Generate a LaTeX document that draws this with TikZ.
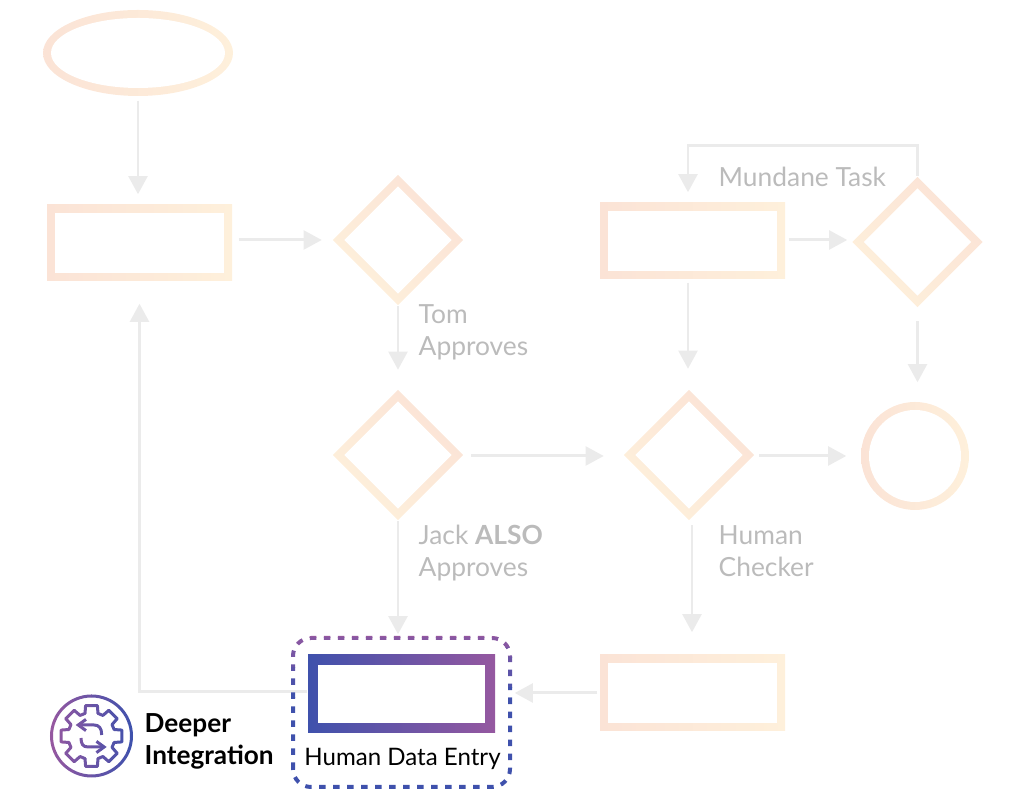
\documentclass[tikz,border=0pt]{standalone}
\usepackage{fontspec}
\setmainfont{Lato}
\usepackage{xcolor}
\usetikzlibrary{shapes.geometric,arrows.meta,positioning,calc}

\definecolor{peach}{HTML}{FBE3D6}
\definecolor{cream}{HTML}{FEF0DB}
\definecolor{flowgray}{HTML}{EBEBEB}
\definecolor{labelgray}{HTML}{BBBBBB}
\definecolor{deepblue}{HTML}{3F51AC}
\definecolor{deeppurple}{HTML}{9558A0}

\tikzset{
  flow/.style={draw=flowgray,line width=0.85pt,-{Triangle[width=5.4pt,length=5.2pt]}},
  boxshape/.style={rectangle,minimum width=1.85cm,minimum height=0.76cm,inner sep=0,
    left color=peach,right color=cream,
    path picture={\fill[white] ([shift={(0.08,0.08)}]path picture bounding box.south west)
      rectangle ([shift={(-0.08,-0.08)}]path picture bounding box.north east);}},
  decision/.style={diamond,aspect=1,minimum width=1.31cm,minimum height=1.31cm,inner sep=0,
    left color=cream,right color=peach,shading angle=135,
    path picture={\fill[white] ([yshift=-1.15mm]path picture bounding box.north)
      -- ([xshift=-1.15mm]path picture bounding box.east)
      -- ([yshift=1.15mm]path picture bounding box.south)
      -- ([xshift=1.15mm]path picture bounding box.west) -- cycle;}},
  note/.style={font=\fontsize{7.5}{9.1}\selectfont,text=labelgray,align=left,anchor=west,inner sep=0},
  blacknote/.style={font=\fontsize{7.45}{9.1}\selectfont\bfseries,text=black,align=left,anchor=west,inner sep=0},
  framedash/.style={dash pattern=on 0.065cm off 0.075cm,line width=0.04cm,rounded corners=0.18cm}
}

\newcommand{\gearicon}{
  \draw (0.915,0.64) circle (0.40);
  \foreach \a in {0,45,...,315}
    \draw[line join=round,line cap=round] ([shift={(0.915,0.64)}]\a-16:0.235) -- ([shift={(0.915,0.64)}]\a-11:0.31)
      -- ([shift={(0.915,0.64)}]\a+11:0.31) -- ([shift={(0.915,0.64)}]\a+16:0.235)
      -- ([shift={(0.915,0.64)}]\a+29:0.235);
  \draw[-{Straight Barb[length=2.2pt,width=3.2pt]}] (1.017,0.65) .. controls (1.017,0.72) and (0.99,0.75) .. (0.94,0.75) -- (0.757,0.75);
  \draw[-{Straight Barb[length=2.2pt,width=3.2pt]}] (0.81,0.62) .. controls (0.81,0.56) and (0.83,0.53) .. (0.88,0.53) -- (1.067,0.53);
}

\begin{document}
\begin{tikzpicture}
  \useasboundingbox (0,0) rectangle (10.24,8);
  % shapes
  \node[ellipse,minimum width=1.9cm,minimum height=0.86cm,inner sep=0,left color=peach,right color=cream,
    path picture={\fill[white] (path picture bounding box.center) ellipse (0.87 and 0.35);}]
    (start) at (1.38,7.47) {};
  \node[boxshape] (firstbox) at (1.395,5.57) {};
  \node[decision] (tom) at (3.98,5.60) {};
  \node[decision] (jack) at (3.98,3.45) {};
  \node[boxshape] (taskbox) at (6.925,5.59) {};
  \node[decision] (mundane) at (9.175,5.58) {};
  \node[decision] (checker) at (6.89,3.45) {};
  \node[circle,minimum size=1.08cm,inner sep=0,left color=peach,right color=cream,
    path picture={\fill[white] (path picture bounding box.center) circle (0.46);}]
    (done) at (9.15,3.44) {};
  \node[boxshape] (fixbox) at (6.925,1.07) {};
  \node[boxshape,minimum width=1.87cm,minimum height=0.78cm,left color=deepblue,right color=deeppurple,
    path picture={\fill[white] ([shift={(0.10,0.10)}]path picture bounding box.south west)
      rectangle ([shift={(-0.10,-0.10)}]path picture bounding box.north east);}]
    (entry) at (4.015,1.06) {};

  % connectors
  \draw[flow,shorten <=0.04cm,shorten >=0.10cm] (start.south) -- (start.south |- firstbox.north);
  \draw[flow,shorten <=0.06cm,shorten >=0.10cm] ([yshift=0.03cm]firstbox.east) -- ([yshift=0.03cm]firstbox.east -| tom.west);
  \draw[flow,shorten >=0.19cm] (tom.south) -- (jack.north);
  \draw[flow,shorten <=0.07cm,shorten >=0.19cm] ([yshift=-0.01cm]jack.east) -- ([yshift=-0.01cm]checker.west);
  \draw[flow,shorten >=0.20cm] (jack.south) -- (jack.south |- entry.north);
  \draw[flow,shorten <=0.04cm,shorten >=0.22cm] ([xshift=0.03cm]checker.south) -- ([xshift=0.03cm]checker.south |- fixbox.north);
  \draw[flow,shorten <=0.04cm,shorten >=0.14cm] ([yshift=-0.01cm]checker.east) -- ([yshift=-0.01cm]checker.east -| done.west);
  \draw[flow,shorten <=0.03cm,shorten >=0.04cm] ([yshift=0.01cm]taskbox.east) -- ([yshift=0.01cm]taskbox.east -| mundane.west);
  \draw[flow,shorten <=0.03cm,shorten >=0.20cm] ([xshift=-0.045cm]taskbox.south) -- ([xshift=-0.045cm]taskbox.south |- checker.north);
  \draw[flow,shorten <=0.13cm,shorten >=0.19cm] (mundane.south) -- (mundane.south |- done.north);
  \draw[flow,shorten <=0.02cm,shorten >=0.19cm] (fixbox.west) -- (fixbox.west -| entry.east);
  \draw[flow,shorten >=0.22cm] ([yshift=0.02cm]entry.west) -| (firstbox.south);
  \draw[flow,shorten >=0.10cm] (mundane.north) |- (6.88,6.54) -- ([xshift=-0.045cm]taskbox.north);

  % labels
  \node[note] (tomtext) at (4.18,4.68) {Tom\\Approves};
  \node[note] (jacktext) at (4.18,2.47) {Jack \textbf{ALSO}\\Approves};
  \node[note] (checkertext) at (7.18,2.49) {Human\\Checker};
  \node[note] (mundanetext) at (7.18,6.23) {Mundane Task};
  \node[blacknote] (deepertext) at (1.44,0.59) {Deeper\\Integration};
  \node[font=\fontsize{6.85}{8}\selectfont,text=black,inner sep=0] (entrytext) at (4.025,0.41) {Human Data Entry};

  % dashed frame, purple at the top and blue below
  \foreach \i in {0,...,6} {
    \pgfmathsetmacro{\pc}{100-\i*100/6}
    \begin{scope}
      \clip (2.8,{1.62-\i*0.1+0.1}) rectangle (5.2,{1.62-\i*0.1});
      \draw[framedash,color=deeppurple!\pc!deepblue] (2.93,0.13) rectangle (5.10,1.62);
    \end{scope}
  }
  \begin{scope}
    \clip (2.8,0) rectangle (5.2,1.02);
    \draw[framedash,color=deepblue] (2.93,0.13) rectangle (5.10,1.62);
  \end{scope}

  % gear icon, purple on the left and blue on the right
  \foreach \i in {0,...,9} {
    \pgfmathsetmacro{\pc}{100-\i*100/9}
    \begin{scope}[line width=0.03cm,color=deeppurple!\pc!deepblue]
      \clip ({0.47+\i*0.09},0.1) rectangle ({0.47+\i*0.09+0.09},1.1);
      \gearicon
    \end{scope}
  }
\end{tikzpicture}
\end{document}
